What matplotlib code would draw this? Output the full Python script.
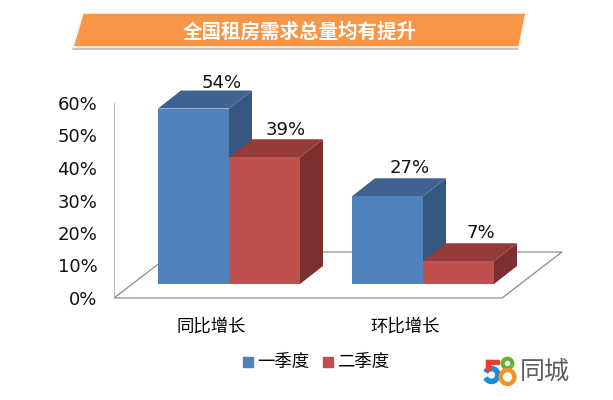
import matplotlib
matplotlib.use("Agg")
import matplotlib.pyplot as plt
from matplotlib.patches import Polygon, Rectangle, Circle, Wedge

plt.rcParams['font.family'] = ['DejaVu Sans']
CJK = ['Noto Sans CJK SC', 'DejaVu Sans']

titulo = "全国租房需求总量均有提升"
categorias = ["同比增长", "环比增长"]
series = ["一季度", "二季度"]
q1 = [54, 27]
q2 = [39, 7]
ticks = [0, 10, 20, 30, 40, 50, 60]

# deslocamento dos rotulos em pontos
off_q1 = [(20, 18), (16, 20)]
off_q2 = [(15, 19.5), (16, 20)]

W, H = 613, 400
fig = plt.figure(figsize=(W / 100, H / 100), dpi=100)

# camada em pixels para banner, legenda e logo
bg = fig.add_axes([0, 0, 1, 1])
bg.set_xlim(0, W)
bg.set_ylim(H, 0)
bg.axis('off')

bg.add_patch(Polygon([(72, 50), (82, 16), (524, 16), (518, 50)], facecolor='#c4c4c4',
                     edgecolor='none', zorder=1.5))
bg.add_patch(Polygon([(73, 47), (83, 13), (526, 13), (519, 47)], facecolor='#F79646',
                     edgecolor='#fdf3ea', lw=1.2, zorder=2))
bg.text(300, 31.5, titulo, color='white', ha='center', va='center', fontsize=14,
        fontweight='bold', family=CJK, zorder=3)

# eixo principal: valores em %, categorias em unidades
ax = fig.add_axes([114 / W, 1 - 298 / H, 388 / W, 195 / H])
ax.set_xlim(0, 2)
ax.set_ylim(0, 60)
ax.patch.set_alpha(0)
for s in ['top', 'right', 'bottom']:
    ax.spines[s].set_visible(False)
ax.spines['left'].set_color('#bdbdbd')
ax.spines['left'].set_bounds(0, 60)
ax.set_xticks([])
ax.set_yticks(ticks)
ax.set_yticklabels([f"{t}%" for t in ticks], fontsize=13, color='#111111')
ax.tick_params(axis='y', length=0, pad=12)

ux = 194.0   # px por categoria
uy = 3.25    # px por %
floor_dx, floor_dy = 60 / ux, 46 / uy
depth_dx, depth_dy = 23 / ux, 18 / uy
off_dx, off_dy = 18 / ux, 14 / uy
bar_w = 71 / ux


def poly(pts, c, z):
    ax.add_patch(Polygon(pts, closed=True, facecolor=c, edgecolor='none', clip_on=False, zorder=z))


def bar3d(x0, v, front, top, side, z):
    x = x0 + off_dx
    b = off_dy
    t = v + off_dy
    poly([(x + bar_w, b), (x + bar_w + depth_dx, b + depth_dy),
          (x + bar_w + depth_dx, t + depth_dy), (x + bar_w, t)], side, z)
    poly([(x, t), (x + depth_dx, t + depth_dy), (x + bar_w + depth_dx, t + depth_dy), (x + bar_w, t)], top, z)
    poly([(x, b), (x + bar_w, b), (x + bar_w, t), (x, t)], front, z)


ax.add_patch(Polygon([(0, 0), (floor_dx, floor_dy), (2 + floor_dx, floor_dy), (2, 0)], closed=True,
                     facecolor='white', edgecolor='#8c8c8c', lw=0.9, clip_on=False, zorder=1))

for i in range(2):
    c = i + 0.5
    bar3d(c - bar_w, q1[i], '#4F81BD', '#3F6391', '#34587F', 3)
    bar3d(c, q2[i], '#C0504D', '#943C39', '#7B2F2F', 4)
    ax.annotate(f"{q1[i]}%", (c - bar_w / 2 + off_dx, q1[i] + off_dy), xytext=off_q1[i],
                textcoords='offset points', ha='center', va='center', fontsize=13, color='#111111',
                annotation_clip=False, zorder=6)
    ax.annotate(f"{q2[i]}%", (c + bar_w / 2 + off_dx, q2[i] + off_dy), xytext=off_q2[i],
                textcoords='offset points', ha='center', va='center', fontsize=13, color='#111111',
                annotation_clip=False, zorder=6)
    ax.annotate(categorias[i], (c, 0), xytext=(0, -20.5), textcoords='offset points', ha='center',
                va='center', fontsize=12.5, family=CJK, color='#000000', annotation_clip=False)

# legenda
bg.add_patch(Rectangle((243, 357), 9.5, 9.5, color='#4F81BD'))
bg.text(257, 362.5, series[0], fontsize=12.5, family=CJK, va='center', color='#000000')
bg.add_patch(Rectangle((323, 357), 9.5, 9.5, color='#C0504D'))
bg.text(337, 362.5, series[1], fontsize=12.5, family=CJK, va='center', color='#000000')

# logo 58
bg.add_patch(Wedge((491.5, 375), 8.5, -150, 150, width=4.2, color='#1C8FD0'))
bg.add_patch(Rectangle((486, 360), 13, 4.2, color='#E8402F'))
bg.add_patch(Rectangle((486, 360), 4.2, 10, color='#E8402F'))
bg.add_patch(Circle((507.5, 363.5), 4.8, fill=False, ec='#63B32E', lw=3))
bg.add_patch(Circle((507.5, 377), 6.9, fill=False, ec='#F39325', lw=3.2))
bg.text(544.5, 371.5, "同城", fontsize=18, family=CJK, fontweight='medium', color='#5e5e5e',
        ha='center', va='center')

fig.savefig('out.png', dpi=100)
